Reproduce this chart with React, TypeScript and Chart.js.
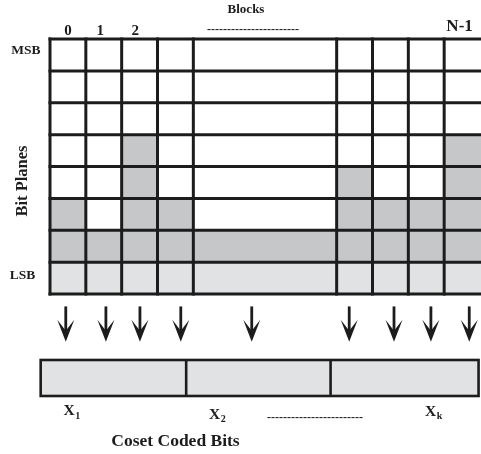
import React, { useEffect, useRef } from 'react';
import { Chart, registerables } from 'chart.js';

Chart.register(...registerables);

// ---- data ----
const blockLabels = ['0', '1', '2', 'N-1'];
const blockLabelX = [0.5, 1.4, 2.38, 11.43];
const columnEdges = [0, 1, 2, 3, 4, 8, 9, 10, 11, 12];
// number of shaded bit planes per block column (LSB counted, LSB light grey)
const significantPlanes = [3, 2, 5, 3, 2, 4, 3, 3, 5];
const bitPlaneCount = 8;
const arrowX = [0.44, 1.56, 2.51, 3.65, 5.63, 8.35, 9.6, 10.63, 11.7];
const arrowTop = -0.39;
const arrowTip = -1.5;
const segmentEdges = [-0.26, 3.8, 7.83, 11.96];
const segmentTop = -2.07;
const segmentBottom = -3.2;
const segmentMain = ['X', 'X', 'X'];
const segmentSub = ['1', '2', 'k'];

// ---- styles ----
const DARK = '#c6c7c9';
const LIGHT = '#e1e2e3';
const INK = '#1c1c1c';
const FONT = '"Liberation Serif", "DejaVu Serif", serif';

const diagramPlugin = {
  id: 'bitplaneDiagram',
  beforeDatasetsDraw(chart: any) {
    const { ctx } = chart;
    const xs = chart.scales.x;
    const ys = chart.scales.y;
    const px = (v: number) => xs.getPixelForValue(v);
    const py = (v: number) => ys.getPixelForValue(v);
    const W = chart.width;
    ctx.save();

    // cells
    for (let c = 0; c < significantPlanes.length; c++) {
      const x0 = px(columnEdges[c]);
      const x1 = c === significantPlanes.length - 1 ? W : px(columnEdges[c + 1]);
      ctx.fillStyle = LIGHT;
      ctx.fillRect(x0, py(1), x1 - x0, py(0) - py(1));
      ctx.fillStyle = DARK;
      const top = py(significantPlanes[c]);
      ctx.fillRect(x0, top, x1 - x0, py(1) - top);
    }

    // grid lines
    ctx.strokeStyle = INK;
    ctx.lineWidth = 3;
    ctx.lineCap = 'butt';
    for (let r = 0; r <= bitPlaneCount; r++) {
      ctx.beginPath();
      ctx.moveTo(px(0) - 1.5, py(r));
      ctx.lineTo(W, py(r));
      ctx.stroke();
    }
    for (let e = 0; e < columnEdges.length - 1; e++) {
      ctx.beginPath();
      ctx.moveTo(px(columnEdges[e]), py(bitPlaneCount) - 1.5);
      ctx.lineTo(px(columnEdges[e]), py(0) + 1.5);
      ctx.stroke();
    }

    // arrows
    ctx.fillStyle = INK;
    ctx.lineWidth = 2.8;
    for (const ax of arrowX) {
      const x = px(ax);
      const yTop = py(arrowTop);
      const yTip = py(arrowTip);
      const headLen = 22;
      const half = 8.5;
      const notch = 11;
      ctx.beginPath();
      ctx.moveTo(x, yTop);
      ctx.lineTo(x, yTip - notch + 1);
      ctx.stroke();
      ctx.beginPath();
      ctx.moveTo(x, yTip);
      ctx.lineTo(x - half, yTip - headLen);
      ctx.lineTo(x, yTip - notch);
      ctx.lineTo(x + half, yTip - headLen);
      ctx.closePath();
      ctx.fill();
    }

    // coded bits bar
    const bx0 = px(segmentEdges[0]);
    const bx1 = px(segmentEdges[segmentEdges.length - 1]);
    const by0 = py(segmentTop);
    const by1 = py(segmentBottom);
    ctx.fillStyle = LIGHT;
    ctx.fillRect(bx0, by0, bx1 - bx0, by1 - by0);
    ctx.lineWidth = 2.6;
    ctx.strokeStyle = INK;
    ctx.strokeRect(bx0, by0, bx1 - bx0, by1 - by0);
    for (let i = 1; i < segmentEdges.length - 1; i++) {
      ctx.beginPath();
      ctx.moveTo(px(segmentEdges[i]), by0);
      ctx.lineTo(px(segmentEdges[i]), by1);
      ctx.stroke();
    }

    // texts
    ctx.fillStyle = INK;
    ctx.textBaseline = 'middle';
    ctx.textAlign = 'center';
    for (let i = 0; i < blockLabels.length; i++) {
      const big = blockLabels[i].length > 1;
      ctx.font = `bold ${big ? 17 : 15}px ${FONT}`;
      ctx.fillText(blockLabels[i], px(blockLabelX[i]), big ? 26.5 : 31);
    }
    ctx.font = `bold 13px ${FONT}`;
    ctx.fillText('Blocks', 246, 10);
    ctx.font = `bold 13.5px ${FONT}`;
    ctx.fillText('MSB', 26, 50.5);
    ctx.fillText('LSB', 22.5, 276);

    const dashes = (x0: number, x1: number, y: number) => {
      ctx.font = `bold 12px ${FONT}`;
      const w = ctx.measureText('-').width;
      const n = Math.max(1, Math.round((x1 - x0) / w));
      ctx.textAlign = 'left';
      ctx.fillText('-'.repeat(n), x0, y);
      ctx.textAlign = 'center';
    };
    dashes(207, 300, 30);
    dashes(267, 363, 418);

    ctx.save();
    ctx.translate(23, 181);
    ctx.rotate(-Math.PI / 2);
    ctx.font = `bold 16.5px ${FONT}`;
    ctx.fillText('Bit Planes', 0, 0);
    ctx.restore();

    const subPos = [
      [63.5, 411],
      [209, 414.5],
      [425, 411.5],
    ];
    ctx.textAlign = 'left';
    for (let i = 0; i < segmentMain.length; i++) {
      const [lx, ly] = subPos[i];
      ctx.font = `bold 15.5px ${FONT}`;
      ctx.fillText(segmentMain[i], lx, ly);
      const w = ctx.measureText(segmentMain[i]).width;
      ctx.font = `bold 10px ${FONT}`;
      ctx.fillText(segmentSub[i], lx + w + 0.5, ly + 5);
    }
    ctx.textAlign = 'center';
    ctx.font = `bold 17.5px ${FONT}`;
    ctx.fillText('Coset Coded Bits', 175.5, 441);

    ctx.restore();
  },
};

export default function App() {
  const ref = useRef<HTMLCanvasElement | null>(null);
  useEffect(() => {
    if (!ref.current) return;
    const chart = new Chart(ref.current, {
      type: 'scatter',
      data: {
        datasets: [
          {
            data: arrowX.map((v) => ({ x: v, y: arrowTop })),
            pointRadius: 0,
            showLine: false,
          },
        ],
      },
      options: {
        animation: false,
        responsive: false,
        devicePixelRatio: window.devicePixelRatio || 1,
        layout: { padding: { left: 50, right: 1, top: 39, bottom: 160 } },
        plugins: { legend: { display: false }, tooltip: { enabled: false } },
        events: [],
        scales: {
          x: { type: 'linear', min: 0, max: 12, display: false },
          y: { type: 'linear', min: 0, max: bitPlaneCount, display: false },
        },
      },
      plugins: [diagramPlugin],
    } as any);
    return () => chart.destroy();
  }, []);
  return (
    <div style={{ position: 'absolute', left: 0, top: 0, width: 481, height: 454, background: '#fff' }}>
      <canvas ref={ref} width={481} height={454} style={{ width: 481, height: 454, display: 'block' }} />
    </div>
  );
}
